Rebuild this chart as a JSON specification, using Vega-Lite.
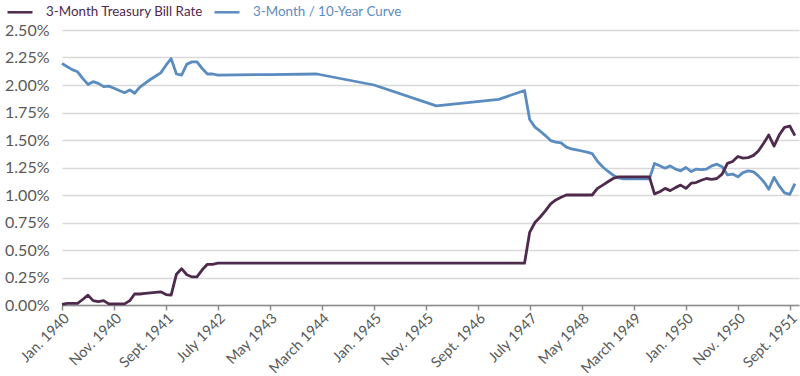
{
  "$schema": "https://vega.github.io/schema/vega-lite/v6.json",
  "width": 737,
  "height": 275,
  "autosize": {"type": "none"},
  "padding": {"left": 62, "top": 30, "right": 1, "bottom": 71},
  "background": "white",
  "config": {
    "view": {"stroke": null},
    "font": "Lato",
    "axis": {"labelFont": "Lato", "labelColor": "#595959", "labelFontSize": 16},
    "legend": {"labelFont": "Lato", "labelFontSize": 13.4}
  },
  "data": {
    "values": [
      {"d": "1940-01", "b": 0.005, "c": 2.196},
      {"d": "1940-02", "b": 0.015, "c": 2.166},
      {"d": "1940-03", "b": 0.015, "c": 2.14},
      {"d": "1940-04", "b": 0.015, "c": 2.12},
      {"d": "1940-05", "b": 0.05, "c": 2.06},
      {"d": "1940-06", "b": 0.09, "c": 2.005},
      {"d": "1940-07", "b": 0.04, "c": 2.03},
      {"d": "1940-08", "b": 0.03, "c": 2.015},
      {"d": "1940-09", "b": 0.04, "c": 1.985},
      {"d": "1940-10", "b": 0.01, "c": 1.99},
      {"d": "1940-11", "b": 0.01, "c": 1.97},
      {"d": "1940-12", "b": 0.01, "c": 1.95},
      {"d": "1941-01", "b": 0.01, "c": 1.93},
      {"d": "1941-02", "b": 0.04, "c": 1.955},
      {"d": "1941-03", "b": 0.1, "c": 1.925},
      {"d": "1941-04", "b": 0.1, "c": 1.98},
      {"d": "1941-05", "b": 0.105, "c": 2.015},
      {"d": "1941-06", "b": 0.11, "c": 2.05},
      {"d": "1941-07", "b": 0.115, "c": 2.08},
      {"d": "1941-08", "b": 0.12, "c": 2.11},
      {"d": "1941-09", "b": 0.095, "c": 2.18},
      {"d": "1941-10", "b": 0.09, "c": 2.24},
      {"d": "1941-11", "b": 0.28, "c": 2.1},
      {"d": "1941-12", "b": 0.33, "c": 2.09},
      {"d": "1942-01", "b": 0.275, "c": 2.19},
      {"d": "1942-02", "b": 0.255, "c": 2.21},
      {"d": "1942-03", "b": 0.255, "c": 2.21},
      {"d": "1942-04", "b": 0.32, "c": 2.15},
      {"d": "1942-05", "b": 0.37, "c": 2.1},
      {"d": "1942-06", "b": 0.37, "c": 2.1},
      {"d": "1942-07", "b": 0.38, "c": 2.09},
      {"d": "1942-08", "b": 0.38},
      {"d": "1942-09", "b": 0.38},
      {"d": "1942-10", "b": 0.38},
      {"d": "1942-11", "b": 0.38},
      {"d": "1942-12", "b": 0.38},
      {"d": "1943-01", "b": 0.38},
      {"d": "1943-02", "b": 0.38},
      {"d": "1943-03", "b": 0.38},
      {"d": "1943-04", "b": 0.38},
      {"d": "1943-05", "b": 0.38, "c": 2.095},
      {"d": "1943-06", "b": 0.38},
      {"d": "1943-07", "b": 0.38},
      {"d": "1943-08", "b": 0.38},
      {"d": "1943-09", "b": 0.38},
      {"d": "1943-10", "b": 0.38},
      {"d": "1943-11", "b": 0.38},
      {"d": "1943-12", "b": 0.38},
      {"d": "1944-01", "b": 0.38},
      {"d": "1944-02", "b": 0.38, "c": 2.1},
      {"d": "1944-03", "b": 0.38},
      {"d": "1944-04", "b": 0.38},
      {"d": "1944-05", "b": 0.38},
      {"d": "1944-06", "b": 0.38},
      {"d": "1944-07", "b": 0.38},
      {"d": "1944-08", "b": 0.38},
      {"d": "1944-09", "b": 0.38},
      {"d": "1944-10", "b": 0.38},
      {"d": "1944-11", "b": 0.38},
      {"d": "1944-12", "b": 0.38},
      {"d": "1945-01", "b": 0.38, "c": 2.0},
      {"d": "1945-02", "b": 0.38},
      {"d": "1945-03", "b": 0.38},
      {"d": "1945-04", "b": 0.38},
      {"d": "1945-05", "b": 0.38},
      {"d": "1945-06", "b": 0.38},
      {"d": "1945-07", "b": 0.38},
      {"d": "1945-08", "b": 0.38},
      {"d": "1945-09", "b": 0.38},
      {"d": "1945-10", "b": 0.38},
      {"d": "1945-11", "b": 0.38},
      {"d": "1945-12", "b": 0.38},
      {"d": "1946-01", "b": 0.38, "c": 1.81},
      {"d": "1946-02", "b": 0.38},
      {"d": "1946-03", "b": 0.38},
      {"d": "1946-04", "b": 0.38},
      {"d": "1946-05", "b": 0.38},
      {"d": "1946-06", "b": 0.38},
      {"d": "1946-07", "b": 0.38},
      {"d": "1946-08", "b": 0.38},
      {"d": "1946-09", "b": 0.38},
      {"d": "1946-10", "b": 0.38},
      {"d": "1946-11", "b": 0.38},
      {"d": "1946-12", "b": 0.38},
      {"d": "1947-01", "b": 0.38, "c": 1.87},
      {"d": "1947-02", "b": 0.38},
      {"d": "1947-03", "b": 0.38},
      {"d": "1947-04", "b": 0.38},
      {"d": "1947-05", "b": 0.38},
      {"d": "1947-06", "b": 0.38, "c": 1.95},
      {"d": "1947-07", "b": 0.66, "c": 1.687},
      {"d": "1947-08", "b": 0.75, "c": 1.617},
      {"d": "1947-09", "b": 0.8, "c": 1.58},
      {"d": "1947-10", "b": 0.855, "c": 1.54},
      {"d": "1947-11", "b": 0.92, "c": 1.495},
      {"d": "1947-12", "b": 0.955, "c": 1.48},
      {"d": "1948-01", "b": 0.98, "c": 1.474},
      {"d": "1948-02", "b": 1.0, "c": 1.435},
      {"d": "1948-03", "b": 1.0, "c": 1.42},
      {"d": "1948-04", "b": 1.0, "c": 1.41},
      {"d": "1948-05", "b": 1.0, "c": 1.4},
      {"d": "1948-06", "b": 1.0, "c": 1.39},
      {"d": "1948-07", "b": 1.0, "c": 1.377},
      {"d": "1948-08", "b": 1.06, "c": 1.307},
      {"d": "1948-09", "b": 1.09, "c": 1.255},
      {"d": "1948-10", "b": 1.12, "c": 1.216},
      {"d": "1948-11", "b": 1.15, "c": 1.18},
      {"d": "1948-12", "b": 1.165, "c": 1.155},
      {"d": "1949-01", "b": 1.165, "c": 1.147},
      {"d": "1949-02", "b": 1.165, "c": 1.147},
      {"d": "1949-03", "b": 1.165, "c": 1.147},
      {"d": "1949-04", "b": 1.165, "c": 1.147},
      {"d": "1949-05", "b": 1.165, "c": 1.147},
      {"d": "1949-06", "b": 1.165, "c": 1.147},
      {"d": "1949-07", "b": 1.01, "c": 1.287},
      {"d": "1949-08", "b": 1.03, "c": 1.265},
      {"d": "1949-09", "b": 1.06, "c": 1.244},
      {"d": "1949-10", "b": 1.04, "c": 1.265},
      {"d": "1949-11", "b": 1.067, "c": 1.235},
      {"d": "1949-12", "b": 1.09, "c": 1.22},
      {"d": "1950-01", "b": 1.06, "c": 1.25},
      {"d": "1950-02", "b": 1.107, "c": 1.213},
      {"d": "1950-03", "b": 1.113, "c": 1.235},
      {"d": "1950-04", "b": 1.134, "c": 1.23},
      {"d": "1950-05", "b": 1.15, "c": 1.235},
      {"d": "1950-06", "b": 1.143, "c": 1.265},
      {"d": "1950-07", "b": 1.15, "c": 1.28},
      {"d": "1950-08", "b": 1.19, "c": 1.256},
      {"d": "1950-09", "b": 1.287, "c": 1.183},
      {"d": "1950-10", "b": 1.305, "c": 1.19},
      {"d": "1950-11", "b": 1.35, "c": 1.165},
      {"d": "1950-12", "b": 1.335, "c": 1.204},
      {"d": "1951-01", "b": 1.34, "c": 1.22},
      {"d": "1951-02", "b": 1.36, "c": 1.21},
      {"d": "1951-03", "b": 1.4, "c": 1.174},
      {"d": "1951-04", "b": 1.47, "c": 1.122},
      {"d": "1951-05", "b": 1.545, "c": 1.052},
      {"d": "1951-06", "b": 1.445, "c": 1.16},
      {"d": "1951-07", "b": 1.545, "c": 1.082},
      {"d": "1951-08", "b": 1.615, "c": 1.02},
      {"d": "1951-09", "b": 1.627, "c": 1.006},
      {"d": "1951-10", "b": 1.54, "c": 1.104}
    ]
  },
  "transform": [
    {"fold": ["c", "b"], "as": ["series", "value"]},
    {"filter": "isValid(datum.value)"}
  ],
  "mark": {"type": "line", "strokeWidth": 2.8, "strokeJoin": "round", "strokeCap": "butt"},
  "encoding": {
    "x": {
      "field": "d",
      "type": "temporal",
      "scale": {
        "type": "utc",
        "domain": [
          {"year": 1940, "month": 1, "date": 1, "utc": true},
          {"year": 1951, "month": 10, "date": 25, "utc": true}
        ]
      },
      "axis": {
        "title": null,
        "grid": false,
        "values": [
          {"year": 1940, "month": 1, "date": 1, "utc": true},
          {"year": 1940, "month": 11, "date": 1, "utc": true},
          {"year": 1941, "month": 9, "date": 1, "utc": true},
          {"year": 1942, "month": 7, "date": 1, "utc": true},
          {"year": 1943, "month": 5, "date": 1, "utc": true},
          {"year": 1944, "month": 3, "date": 1, "utc": true},
          {"year": 1945, "month": 1, "date": 1, "utc": true},
          {"year": 1945, "month": 11, "date": 1, "utc": true},
          {"year": 1946, "month": 9, "date": 1, "utc": true},
          {"year": 1947, "month": 7, "date": 1, "utc": true},
          {"year": 1948, "month": 5, "date": 1, "utc": true},
          {"year": 1949, "month": 3, "date": 1, "utc": true},
          {"year": 1950, "month": 1, "date": 1, "utc": true},
          {"year": 1950, "month": 11, "date": 1, "utc": true},
          {"year": 1951, "month": 9, "date": 1, "utc": true}
        ],
        "labelExpr": "['Jan.','Feb.','March','April','May','June','July','Aug.','Sept.','Oct.','Nov.','Dec.'][utcmonth(datum.value)] + ' ' + utcyear(datum.value)",
        "labelAngle": -45,
        "labelAlign": "right",
        "labelBaseline": "top",
        "labelPadding": 1,
        "labelFontSize": 14.5,
        "labelOverlap": false,
        "labelBound": false,
        "labelFlush": false,
        "domainColor": "#8c8c8c",
        "domainWidth": 1.5,
        "tickColor": "#8c8c8c",
        "tickWidth": 1.5,
        "tickSize": 5
      }
    },
    "y": {
      "field": "value",
      "type": "quantitative",
      "scale": {"domain": [0, 2.5], "nice": false, "zero": true},
      "axis": {
        "title": null,
        "domain": false,
        "ticks": false,
        "values": [0, 0.25, 0.5, 0.75, 1, 1.25, 1.5, 1.75, 2, 2.25, 2.5],
        "labelExpr": "format(datum.value, '.2f') + '%'",
        "labelPadding": 13,
        "gridColor": "#d9d9d9",
        "gridWidth": 1.5
      }
    },
    "color": {
      "field": "series",
      "type": "nominal",
      "sort": ["b", "c"],
      "scale": {"domain": ["b", "c"], "range": ["#4e2a4d", "#5b8cc0"]},
      "legend": {
        "title": null,
        "orient": "none",
        "legendX": -56,
        "legendY": -32,
        "direction": "horizontal",
        "symbolType": "stroke",
        "symbolSize": 625,
        "symbolStrokeWidth": 2.5,
        "labelOffset": 12,
        "labelLimit": 400,
        "columnPadding": 5,
        "labelExpr": "datum.value === 'b' ? '3-Month Treasury Bill Rate' : '3-Month / 10-Year Curve'",
        "encode": {
          "labels": {
            "update": {
              "fill": {"signal": "datum.value === 'b' ? '#4e2a4d' : '#5b8cc0'"}
            }
          }
        }
      }
    }
  }
}
